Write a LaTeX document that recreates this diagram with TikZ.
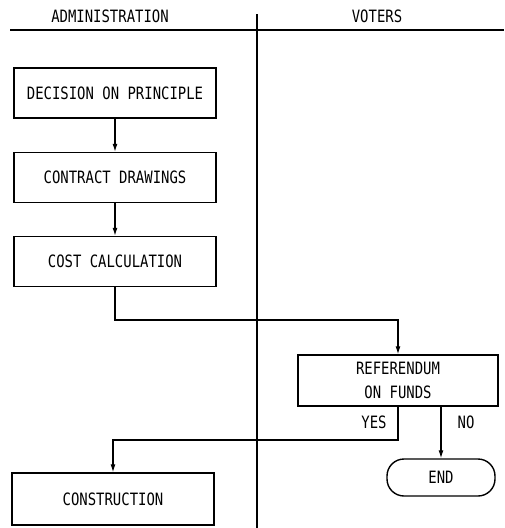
\documentclass[tikz,border=0pt]{standalone}
\usepackage{fontspec}
\setmainfont[FakeStretch=0.82]{DejaVu Sans Mono}
\usetikzlibrary{arrows.meta}
\tikzset{
  lbl/.style={font=\fontsize{17}{24}\selectfont, inner sep=0pt},
  procbox/.style={draw, line width=1.4pt, minimum width=202pt, minimum height=50pt, inner sep=0pt, align=center, font=\fontsize{17}{24}\selectfont},
  termbox/.style={draw, line width=1.4pt, rounded corners=17pt, minimum width=108pt, minimum height=37pt, inner sep=0pt, font=\fontsize{17}{24}\selectfont},
  conn/.style={line width=1.2pt},
  arr/.style={conn, -{Latex[length=8pt,width=5pt]}},
  rule/.style={line width=1.2pt}
}
\begin{document}
\begin{tikzpicture}[x=1pt,y=-1pt]
\useasboundingbox (0,0) rectangle (504,528);
% headers
\node[lbl] (hadm) at (110,16) {ADMINISTRATION};
\node[lbl] (hvot) at (377,16) {VOTERS};
\coordinate (hl) at (10,30);
\coordinate (hr) at (504,30);
\coordinate (vt) at (257,14);
\coordinate (vb) at (257,528);
\draw[rule] (hl) -- (hr);
\draw[rule] (vt) -- (vb);
% boxes
\node[procbox] (b1) at (115,93) {DECISION ON PRINCIPLE};
\node[procbox] (b2) at (115,177.5) {CONTRACT DRAWINGS};
\node[procbox] (b3) at (115,261.5) {COST CALCULATION};
\node[procbox, minimum width=200pt, minimum height=51pt] (ref) at (398,380.5) {REFERENDUM\\ON FUNDS};
\node[procbox, minimum height=52pt] (cons) at (113,499) {CONSTRUCTION};
\node[termbox] (end) at (441,477.5) {END};
% connectors
\draw[arr] (b1) -- (b2);
\draw[arr] (b2) -- (b3);
\coordinate (j1) at (115,320);
\draw[arr] (b3.south) -- (j1) -| (ref.north);
\coordinate (j2) at (398,440);
\draw[arr] (ref.south) -- (j2) -| (cons.north);
\draw[arr] (end.north |- ref.south) -- (end.north);
% labels
\node[lbl] (yes) at (374,422) {YES};
\node[lbl] (no) at (466,422) {NO};
\end{tikzpicture}
\end{document}
